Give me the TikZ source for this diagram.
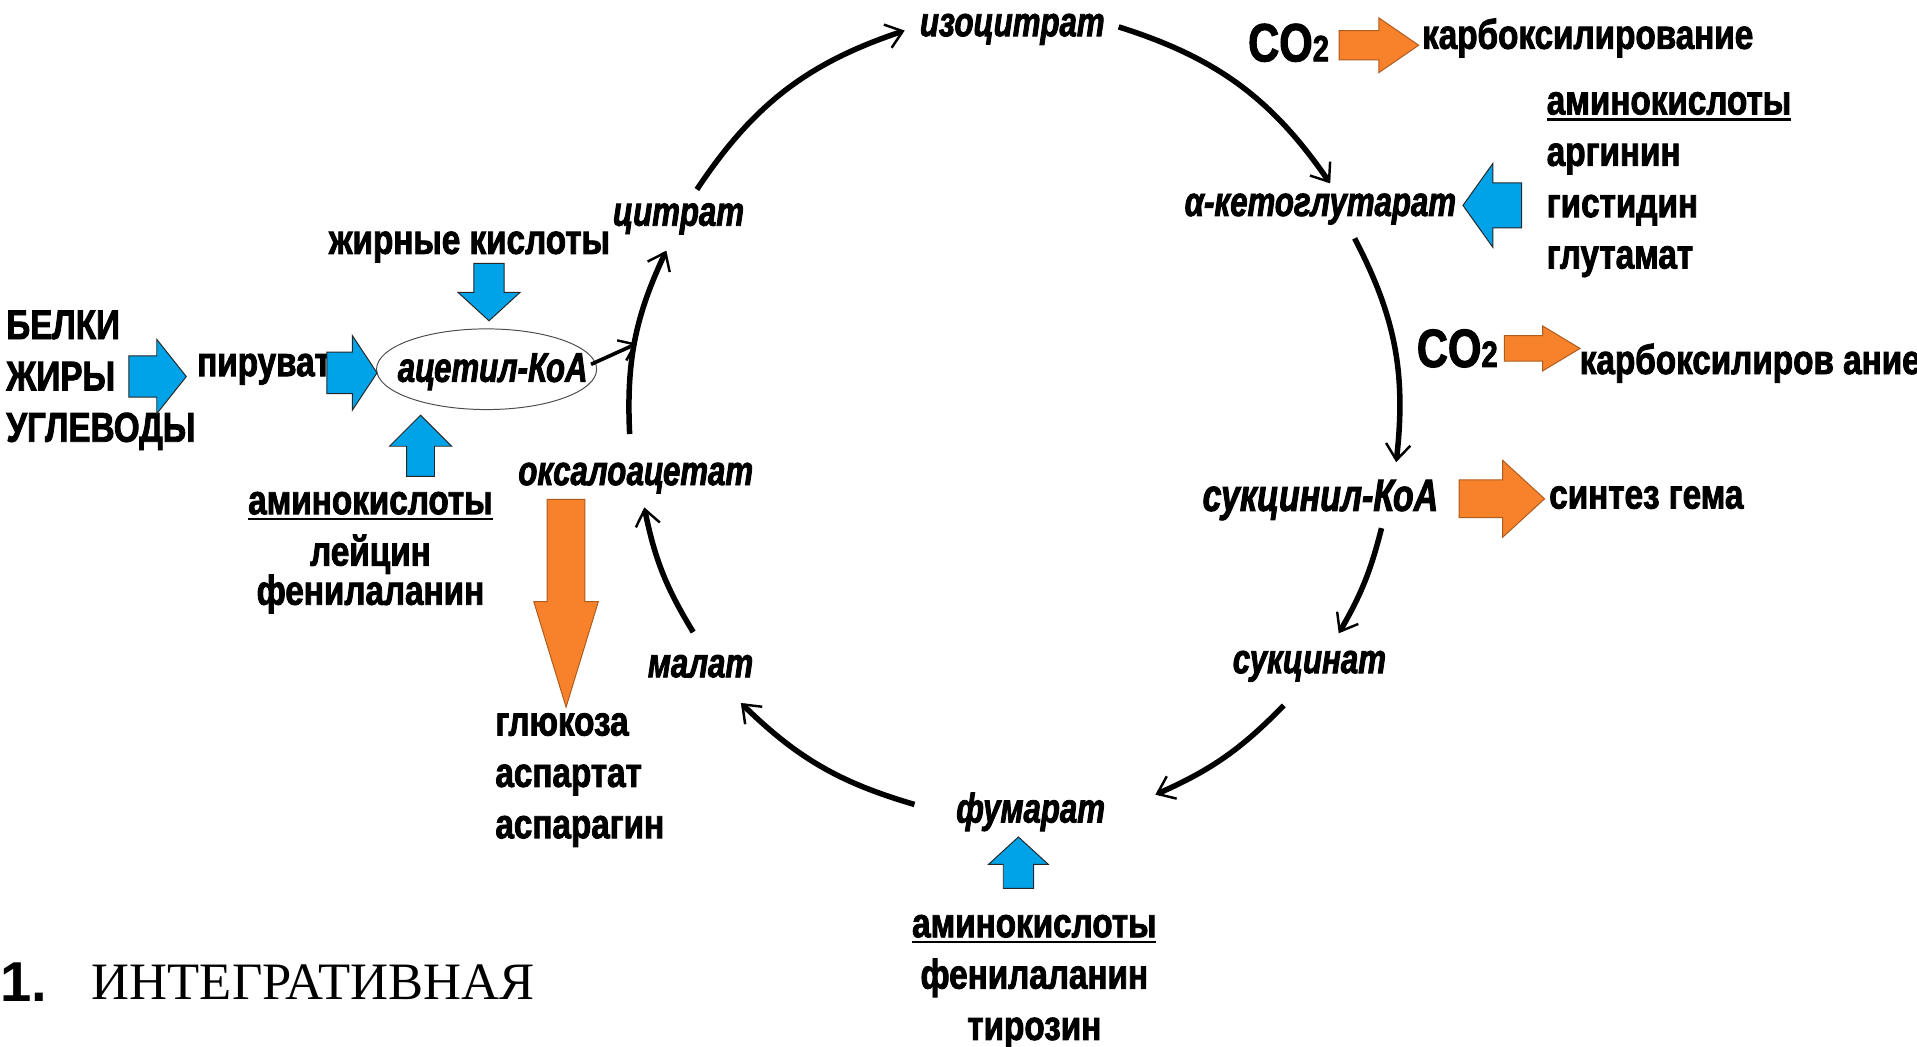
\documentclass[tikz,border=0pt]{standalone}
\usepackage{fontspec}
\setmainfont{Liberation Sans}[FakeStretch=0.8, BoldFeatures={FakeBold=2}]
\newfontfamily\metfont{Liberation Sans}[FakeStretch=0.75, BoldItalicFeatures={FakeBold=2}]
\newfontfamily\numfont{Liberation Sans}
\newfontfamily\serifcap{Liberation Serif}
\usetikzlibrary{arrows.meta, shapes.arrows, shapes.geometric, calc}
\definecolor{cBlue}{HTML}{00A2E8}
\definecolor{cOrange}{HTML}{F8822B}
\newcommand{\ulword}[1]{\leavevmode\setbox0=\hbox{#1}\rlap{\rule[-5pt]{\wd0}{1.8pt}}\box0}

\begin{document}
\begin{tikzpicture}[
  x=1pt, y=1pt,
  lab/.style={font=\bfseries\fontsize{34}{42}\selectfont, inner sep=0pt},
  met/.style={font=\metfont\bfseries\itshape\fontsize{34}{42}\selectfont, inner sep=0pt},
  co/.style={font=\bfseries\fontsize{44}{44}\selectfont, inner sep=0pt},
  cyc/.style={line width=4.5pt, -{Straight Barb[length=13pt, width=20pt, line width=2pt]}},
  fat/.style={single arrow, anchor=tail, inner xsep=0pt, line width=0.8pt},
  blue arrow/.style={fat, fill=cBlue, draw=black!85},
  orange arrow/.style={fat, fill=cOrange, draw=cOrange!70!black},
]
\useasboundingbox (0,0) rectangle (1568,-856);

% ---- cycle metabolites ----------------------------------------------
\node[met] (iso) at (828,-24) {изоцитрат};
\node[met] (citr) at (555,-179) {цитрат};
\node[met] (akg) at (1080,-171) {α-кетоглутарат};
\node[met, font=\metfont\bfseries\itshape\fontsize{37}{42}\selectfont] (sucoa) at (1080,-409) {сукцинил-КоА};
\node[met] (succ) at (1071,-545) {сукцинат};
\node[met] (fum) at (843,-664) {фумарат};
\node[met] (mal) at (573,-545) {малат};
\node[met] (oxal) at (520,-391) {оксалоацетат};
\node[met] (acoa) at (403,-304) {ацетил-КоА};
\node[ellipse, draw=black!70, line width=0.8pt, minimum width=180pt,
      minimum height=66pt] (acoaRing) at (398,-302) {};
\coordinate (join) at (521,-281);

% ---- cycle arrows -----------------------------------------------------
\draw[cyc] ($(oxal)+(-5,36)$) to[bend left=14] ($(citr)+(-10,-26)$);
\draw[cyc] ($(citr)+(15,24)$) to[bend left=19] ($(iso)+(-88,-1)$);
\draw[cyc] ($(iso)+(87,2)$) to[bend left=19] ($(akg)+(8,21)$);
\draw[cyc] ($(akg)+(28,-24)$) to[bend left=17] ($(sucoa)+(62,31)$);
\draw[cyc] ($(sucoa)+(50,-23)$) to[bend left=8] ($(succ)+(24,27)$);
\draw[cyc] ($(succ)+(-21,-32)$) to[bend left=11] ($(fum)+(102,14)$);
\draw[cyc] ($(fum)+(-95,6)$) to[bend left=14] ($(mal)+(33,-30)$);
\draw[cyc] ($(mal)+(-6,28)$) to[bend left=10] ($(oxal)+(7,-24)$);
\draw[line width=3pt, -{Straight Barb[length=12pt, width=18pt, line width=2pt]}]
  ($(acoaRing.east)+(-5,4)$) -- (join);

% ---- inputs (blue) ----------------------------------------------------
\node[lab, align=left, anchor=west] (src) at (5,-311) {БЕЛКИ\\ЖИРЫ\\УГЛЕВОДЫ};
\node[lab] (pyr) at (216,-302) {пируват};
\node[lab] (fa) at (384,-202) {жирные кислоты};
\node[lab, align=center] (aaL) at (303,-452)
  {\ulword{аминокислоты}\\лейцин\\[-10pt]фенилаланин};
\node[lab, align=left, anchor=west] (aaR) at (1265,-151)
  {\ulword{аминокислоты}\\аргинин\\гистидин\\глутамат};
\node[lab, align=center] (aaB) at (846,-803)
  {\ulword{аминокислоты}\\фенилаланин\\тирозин};

\node[blue arrow, minimum height=47pt, minimum width=60pt, inner ysep=16.5pt,
      single arrow head extend=13.5pt, single arrow tip angle=103] (fatSrc) at (105,-308) {};
\node[blue arrow, minimum height=41pt, minimum width=60pt, inner ysep=16.5pt,
      single arrow head extend=13.5pt, single arrow tip angle=113] (fatPyr) at (267,-305) {};
\node[blue arrow, rotate=-90, minimum height=47pt, minimum width=50pt, inner ysep=12pt,
      single arrow head extend=13pt, single arrow tip angle=95] (fatFa) at (400,-215) {};
\node[blue arrow, rotate=90, minimum height=50pt, minimum width=50pt, inner ysep=11pt,
      single arrow head extend=14pt, single arrow tip angle=90] (fatAaL) at (344,-390) {};
\node[blue arrow, rotate=180, minimum height=48pt, minimum width=68pt, inner ysep=18pt,
      single arrow head extend=16pt, single arrow tip angle=109] (fatAaR) at (1245,-168) {};
\node[blue arrow, rotate=90, minimum height=42pt, minimum width=48pt, inner ysep=12pt,
      single arrow head extend=12pt, single arrow tip angle=95] (fatAaB) at (833,-727) {};

% ---- outputs (orange) -------------------------------------------------
\node[co] (co2A) at (1054,-35) {CO{\fontsize{30}{30}\selectfont 2}};
\node[co] (co2B) at (1192,-285) {CO{\fontsize{30}{30}\selectfont 2}};
\node[lab, anchor=west] (carbA) at (1163,-31) {карбоксилирование};
\node[lab, anchor=west] (carbB) at (1292,-297) {карбоксилиров ание};
\node[lab, anchor=west] (heme) at (1267,-407) {синтез гема};
\node[lab, align=left, anchor=west] (glu) at (405,-638) {глюкоза\\аспартат\\аспарагин};

\node[orange arrow, minimum height=65pt, minimum width=44pt, inner ysep=11.5pt,
      single arrow head extend=10.5pt, single arrow tip angle=69] (fatCoA) at (1095,-37) {};
\node[orange arrow, minimum height=62pt, minimum width=36pt, inner ysep=10pt,
      single arrow head extend=8pt, single arrow tip angle=62] (fatCoB) at (1230,-285) {};
\node[orange arrow, minimum height=70pt, minimum width=62pt, inner ysep=15pt,
      single arrow head extend=16pt, single arrow tip angle=85] (fatHeme) at (1193,-408) {};
\node[orange arrow, rotate=-90, minimum height=170pt, minimum width=52pt, inner ysep=15pt,
      single arrow head extend=11pt, single arrow tip angle=34] (fatGlu) at (463,-408) {};

% ---- caption ----------------------------------------------------------
\node[font=\numfont\bfseries\fontsize{46}{46}\selectfont, inner sep=0pt, anchor=west] (num) at (0,-803) {1.};
\node[font=\serifcap\fontsize{43}{43}\selectfont, inner sep=0pt, anchor=west] (title) at (75,-803) {ИНТЕГРАТИВНАЯ};

\end{tikzpicture}
\end{document}
